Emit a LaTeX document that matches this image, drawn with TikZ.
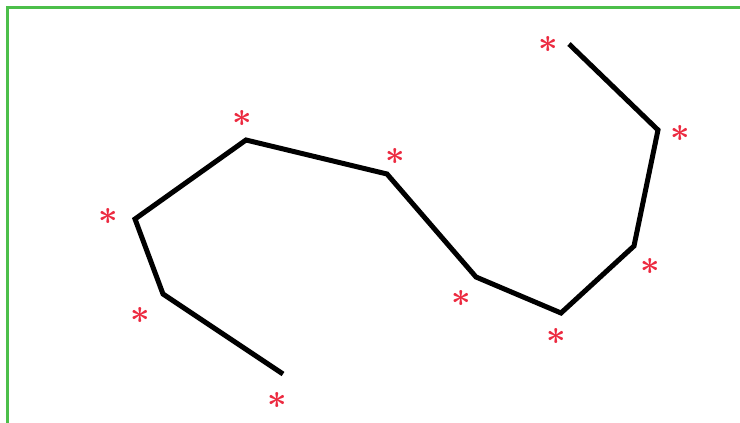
\documentclass[tikz,border=0pt]{standalone}
\usepackage{tikz}
\definecolor{framegreen}{HTML}{4CBF4A}
\definecolor{markred}{HTML}{EC2A40}
\newcommand{\starmark}{\scalebox{3.4}{$\ast$}}

\begin{document}
\begin{tikzpicture}[x=1pt, y=-1pt,
    mark star/.style={color=markred, font=\boldmath, inner sep=0pt}]
  \useasboundingbox (0,0) rectangle (740,423);
  \draw[framegreen, line width=3pt] (7.5,423) -- (7.5,7.5) -- (740,7.5);
  % vertices of the polyline
  \coordinate (p1) at (283,374);
  \coordinate (p2) at (163,294);
  \coordinate (p3) at (135,219);
  \coordinate (p4) at (246,140);
  \coordinate (p5) at (387,174);
  \coordinate (p6) at (476,277);
  \coordinate (p7) at (561,313);
  \coordinate (p8) at (634,246);
  \coordinate (p9) at (658,130);
  \coordinate (p10) at (569,44);
  \draw[black, line width=5pt] (p1) -- (p2) -- (p3) -- (p4) -- (p5) -- (p6)
    -- (p7) -- (p8) -- (p9) -- (p10);
  % star marks
  \node[mark star] (s1) at (277,400) {\starmark};
  \node[mark star] (s2) at (140,315) {\starmark};
  \node[mark star] (s3) at (108,216) {\starmark};
  \node[mark star] (s4) at (242,118) {\starmark};
  \node[mark star] (s5) at (395,156) {\starmark};
  \node[mark star] (s6) at (461,298) {\starmark};
  \node[mark star] (s7) at (556,336) {\starmark};
  \node[mark star] (s8) at (650,266) {\starmark};
  \node[mark star] (s9) at (680,133) {\starmark};
  \node[mark star] (s10) at (548,44) {\starmark};
\end{tikzpicture}
\end{document}
